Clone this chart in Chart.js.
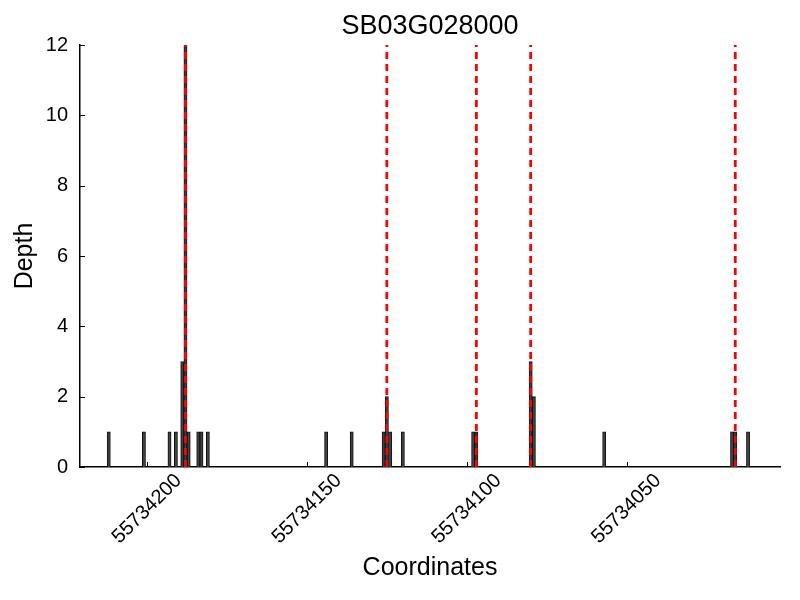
<!DOCTYPE html>
<html>
<head>
<meta charset="utf-8">
<script src="https://cdn.jsdelivr.net/npm/chart.js@4/dist/chart.umd.min.js"></script>
<style>
  html, body { margin: 0; padding: 0; background: #fff; }
  canvas { display: block; }
</style>
</head>
<body>
<canvas id="depth" width="800" height="600"></canvas>
<script>
const coords = [55734212, 55734201, 55734193, 55734191, 55734189, 55734188, 55734187,
	55734184, 55734183, 55734181, 55734144, 55734136, 55734126, 55734125, 55734124,
	55734120, 55734098, 55734097, 55734080, 55734079, 55734057, 55734017, 55734016,
	55734012]
const depths = [1, 1, 1, 1, 3, 12, 1, 1, 1, 1, 1, 1, 1, 2, 1, 1, 1, 1, 3, 2, 1, 1, 1, 1]
const markers = [55734188, 55734125, 55734097, 55734080, 55734016]
const xTicks = [55734050, 55734100, 55734150, 55734200]
const yTicks = [0, 2, 4, 6, 8, 10, 12]

const font = 'Liberation Sans, Arial, sans-serif'

// red dashed verticals, inward tick marks, rotated x labels centred on ticks
const overlay = {
	id: 'overlay',
	afterDatasetsDraw(chart) {
		const ctx = chart.ctx
		const { top, bottom, left } = chart.chartArea
		const x = chart.scales.x
		const y = chart.scales.y
		ctx.save()
		ctx.strokeStyle = '#ff0000'
		ctx.lineWidth = 2.8
		ctx.setLineDash([7, 5])
		markers.forEach(m => {
			const px = x.getPixelForValue(m)
			ctx.beginPath()
			ctx.moveTo(px, bottom)
			ctx.lineTo(px, top)
			ctx.stroke()
		})
		ctx.setLineDash([])
		ctx.strokeStyle = '#000'
		ctx.lineWidth = 1
		xTicks.forEach(t => {
			const px = Math.round(x.getPixelForValue(t)) + 0.5
			ctx.beginPath()
			ctx.moveTo(px, bottom)
			ctx.lineTo(px, bottom - 5)
			ctx.stroke()
		})
		yTicks.forEach(t => {
			const py = Math.round(y.getPixelForValue(t)) + 0.5
			ctx.beginPath()
			ctx.moveTo(left, py)
			ctx.lineTo(left + 5, py)
			ctx.stroke()
		})
		ctx.fillStyle = '#000'
		ctx.font = '20px ' + font
		ctx.textAlign = 'center'
		ctx.textBaseline = 'middle'
		xTicks.forEach(t => {
			const px = x.getPixelForValue(t)
			ctx.save()
			ctx.translate(px, bottom + 42)
			ctx.rotate(-Math.PI / 4)
			ctx.fillText(String(t), 0, 0)
			ctx.restore()
		})
		ctx.restore()
	}
}

new Chart(document.getElementById('depth').getContext('2d'), {
	type: 'bar',
	data: {
		datasets: [
			{
				data: coords.map((c, i) => ({ x: c, y: depths[i] })),
				backgroundColor: '#404040',
				borderColor: '#111111',
				borderWidth: 1,
				barPercentage: 1,
				categoryPercentage: 1
			}
		]
	},
	options: {
		responsive: false,
		animation: false,
		layout: { padding: { top: 0, right: 20, bottom: 0, left: 0 } },
		plugins: {
			legend: { display: false },
			tooltip: { enabled: false },
			title: {
				display: true,
				text: 'SB03G028000',
				color: '#000',
				fullSize: false,
				font: { family: font, size: 27, weight: 'normal', lineHeight: 1.2 },
				padding: { top: 10, bottom: 2.6 }
			}
		},
		scales: {
			x: {
				type: 'linear',
				reverse: true,
				offset: false,
				min: 55734002,
				max: 55734221,
				afterBuildTicks: scale => {
					scale.ticks = xTicks.map(v => ({ value: v }))
				},
				afterFit: scale => {
					scale.height = 133
				},
				grid: { display: false, drawTicks: false },
				border: { display: true, color: '#000', width: 1.5 },
				ticks: { display: false },
				title: {
					display: true,
					text: 'Coordinates',
					color: '#000',
					font: { family: font, size: 25, lineHeight: 1.2 },
					padding: { top: 0, bottom: 17 }
				}
			},
			y: {
				min: 0,
				max: 12,
				afterBuildTicks: scale => {
					scale.ticks = yTicks.map(v => ({ value: v }))
				},
				afterFit: scale => {
					scale.width = 80
				},
				grid: { display: false, drawTicks: false },
				border: { display: true, color: '#000', width: 1.5 },
				ticks: {
					color: '#000',
					font: { family: font, size: 20 },
					padding: 12
				},
				title: {
					display: true,
					text: 'Depth',
					color: '#000',
					font: { family: font, size: 25, lineHeight: 1.2 },
					padding: { top: 10, bottom: 0 }
				}
			}
		}
	},
	plugins: [overlay]
})
</script>
</body>
</html>
